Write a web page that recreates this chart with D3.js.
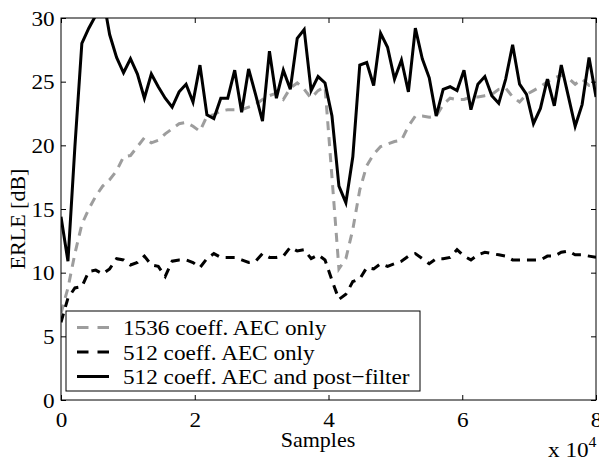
<!DOCTYPE html>
<html>
<head>
<meta charset="utf-8">
<script src="https://cdn.jsdelivr.net/npm/d3@7/dist/d3.min.js"></script>
<style>
body{margin:0;background:#fff;}
text{font-family:"Liberation Serif","Times New Roman",serif;fill:#000;}
</style>
</head>
<body>
<div id="chart"></div>
<script>
// ERLE curves, one value per block of samples (x axis in units of 10^4 samples)
var xMax = 8;
var blocks = 77; // intervals between 0 and xMax

var erle1536 = [6.8,8.8,11.5,13.8,15.0,16.0,16.8,17.3,18.0,19.1,
    19.2,19.9,20.6,20.2,20.4,20.9,21.3,21.7,21.8,21.5,
    21.1,22.3,22.4,22.7,22.8,22.8,22.8,23.0,23.2,23.6,
    23.9,24.1,23.6,24.5,24.9,24.4,23.7,24.3,24.6,17.5,
    10.3,11.1,13.4,16.5,18.4,19.3,19.9,20.1,20.3,20.4,
    21.5,22.3,22.3,22.2,22.3,23.2,23.7,23.6,23.6,23.8,
    23.8,23.9,24.0,24.4,24.5,23.8,23.4,24.0,24.3,24.6,
    25.0,25.3,25.5,25.3,24.8,25.2,24.7,24.8];

var erle512 = [6.1,8.0,8.8,8.9,10.1,10.2,9.9,10.3,11.1,11.0,
    10.6,10.8,11.3,10.6,10.5,9.7,10.9,11.0,11.0,10.8,
    10.4,11.1,11.5,11.2,11.2,11.2,11.0,10.8,10.9,11.5,
    11.2,11.2,11.3,12.0,11.7,11.8,11.1,11.4,11.0,9.4,
    7.9,8.3,9.3,9.5,10.4,10.3,10.7,10.5,10.7,10.9,
    11.3,11.5,11.1,10.7,11.1,11.1,11.2,11.8,11.3,11.0,
    11.4,11.6,11.5,11.4,11.3,11.0,11.0,11.0,11.0,11.0,
    11.3,11.3,11.6,11.7,11.4,11.4,11.3,11.2];

var erle512pf = [14.4,10.9,19.9,28.0,29.2,30.2,31.8,28.7,26.9,25.7,
    26.8,25.6,23.7,25.6,24.6,23.7,23.0,24.2,24.8,23.4,
    26.3,22.4,22.1,23.7,23.7,25.9,22.6,26.0,24.0,21.9,
    27.4,23.7,25.9,24.4,28.4,29.1,24.3,25.4,24.9,22.3,
    16.8,15.5,19.1,26.3,26.5,24.7,28.8,27.7,25.2,26.7,
    24.2,29.2,26.8,25.3,22.3,24.4,24.6,24.3,25.9,22.8,
    24.8,25.4,23.9,23.3,25.2,27.9,24.8,24.0,21.7,22.9,
    25.2,23.1,26.3,23.9,21.5,23.2,26.9,23.8];

var xTicks = [0,2,4,6,8];
var yTicks = [0,5,10,15,20,25,30];
var legendLabels = ["1536 coeff. AEC only", "512 coeff. AEC only", "512 coeff. AEC and post\u2212filter"];

var drawChart = function(){

    var svgWidth = 599;
    var svgHeight = 462;
    var left = 61, right = 596, top = 18, bottom = 400;
    var fontSize = 22;
    var stretch = 1.055; // the original text is a bit wider than Liberation Serif

    var svg = d3.select("#chart").append("svg")
	.attr("width", svgWidth)
	.attr("height", svgHeight);

    var xScale = d3.scaleLinear().domain([0, xMax]).range([left, right]);
    var yScale = d3.scaleLinear().domain([0, 30]).range([bottom, top]);

    svg.append("clipPath").attr("id", "plotClip")
	.append("rect")
	.attr("x", left).attr("y", top)
	.attr("width", right - left).attr("height", bottom - top);

    var line = d3.line()
	.x(function(d, i){ return xScale(i * xMax / blocks); })
	.y(function(d){ return yScale(d); });

    var series = [
	{values: erle1536, color: "#9d9d9d", dash: "9,7"},
	{values: erle512, color: "#000", dash: "9,7"},
	{values: erle512pf, color: "#000", dash: null}
    ];

    var plot = svg.append("g").attr("clip-path", "url(#plotClip)");

    series.forEach(function(s){
	plot.append("path")
	    .datum(s.values)
	    .attr("d", line)
	    .attr("fill", "none")
	    .attr("stroke", s.color)
	    .attr("stroke-width", 3)
	    .attr("stroke-linejoin", "miter")
	    .attr("stroke-dasharray", s.dash);
    });

    // axes, ticks pointing inward on all four sides
    var xAxis = d3.axisBottom(xScale).tickValues(xTicks).tickSizeInner(-5).tickSizeOuter(0).tickPadding(11);
    var yAxis = d3.axisLeft(yScale).tickValues(yTicks).tickSizeInner(-5).tickSizeOuter(0).tickPadding(6);
    var xTop = d3.axisTop(xScale).tickValues(xTicks).tickSizeInner(-5).tickSizeOuter(0).tickFormat("");
    var yRight = d3.axisRight(yScale).tickValues(yTicks).tickSizeInner(-5).tickSizeOuter(0).tickFormat("");

    svg.append("g").attr("transform", "translate(0," + bottom + ")").call(xAxis);
    svg.append("g").attr("transform", "translate(" + left + ",0)").call(yAxis);
    svg.append("g").attr("transform", "translate(0," + top + ")").call(xTop);
    svg.append("g").attr("transform", "translate(" + right + ",0)").call(yRight);

    svg.selectAll(".domain").remove();
    svg.selectAll(".tick line").attr("stroke", "#000").attr("stroke-width", 1);
    svg.selectAll(".tick text")
	.style("font-family", "Liberation Serif")
	.style("font-size", fontSize + "px")
	.attr("fill", "#000")
	.attr("transform", "scale(" + stretch + ",1)");

    svg.append("rect")
	.attr("x", left).attr("y", top)
	.attr("width", right - left).attr("height", bottom - top)
	.attr("fill", "none").attr("stroke", "#000").attr("stroke-width", 1);

    // labels
    svg.append("text")
	.attr("transform", "translate(318,447)")
	.attr("text-anchor", "middle")
	.style("font-size", fontSize + "px")
	.text("Samples");

    svg.append("text")
	.attr("transform", "translate(25,219) rotate(-90)")
	.attr("text-anchor", "middle")
	.style("font-size", fontSize + "px")
	.text("ERLE [dB]");

    var mult = svg.append("text")
	.attr("transform", "translate(548,457) scale(" + stretch + ",1)")
	.style("font-size", fontSize + "px");
    mult.append("tspan").text("x 10");
    mult.append("tspan").attr("dy", -10).style("font-size", "15px").text("4");

    // legend
    var legend = svg.append("g");
    legend.append("rect")
	.attr("x", 66).attr("y", 311)
	.attr("width", 354).attr("height", 80)
	.attr("fill", "#fff").attr("stroke", "#000").attr("stroke-width", 1);

    var rowY = [327.5, 352, 376.5];
    legendLabels.forEach(function(label, i){
	legend.append("line")
	    .attr("x1", 77).attr("x2", 109)
	    .attr("y1", rowY[i]).attr("y2", rowY[i])
	    .attr("stroke", series[i].color)
	    .attr("stroke-width", 3)
	    .attr("stroke-dasharray", series[i].dash ? "11.5,9" : null);
	legend.append("text")
	    .attr("transform", "translate(123," + rowY[i] + ") scale(" + stretch + ",1)")
	    .attr("dy", "0.35em")
	    .style("font-size", fontSize + "px")
	    .text(label);
    });
};

drawChart();
</script>
</body>
</html>
